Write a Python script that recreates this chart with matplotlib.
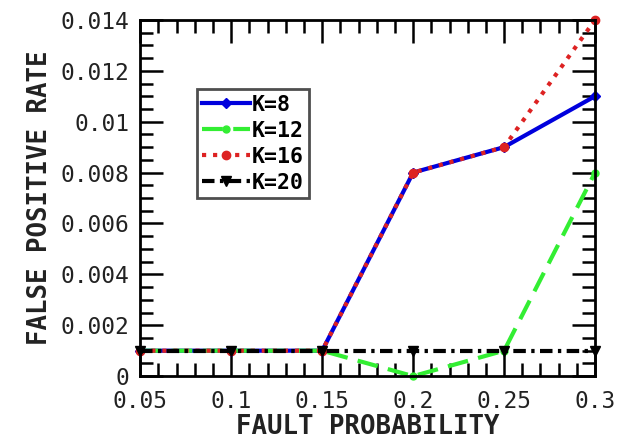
import matplotlib
matplotlib.use('Agg')
import matplotlib.pyplot as plt
from matplotlib.ticker import MultipleLocator, FormatStrFormatter

fault_prob = [0.05, 0.1, 0.15, 0.2, 0.25, 0.3]
k8 = [0.001, 0.001, 0.001, 0.008, 0.009, 0.011]
k12 = [0.001, 0.001, 0.001, 0.0, 0.001, 0.008]
k16 = [0.001, 0.001, 0.001, 0.008, 0.009, 0.014]
k20 = [0.001, 0.001, 0.001, 0.001, 0.001, 0.001]

plt.rcParams['font.family'] = 'DejaVu Sans Mono'

fig = plt.figure(figsize=(6.29, 4.42), dpi=100)
ax = fig.add_axes([0.223, 0.149, 0.723, 0.806])

ax.plot(fault_prob, k8, color='#0000dd', ls='-', lw=3, marker='D', ms=5, label='K=8', clip_on=False)
ax.plot(fault_prob, k12, color='#33ee33', ls=(0, (5, 2.5)), lw=3, marker='o', ms=5, label='K=12', clip_on=False)
ax.plot(fault_prob, k16, color='#dd2222', ls=':', lw=3, marker='o', ms=6, label='K=16', clip_on=False)
ax.plot(fault_prob, k20, color='black', ls=(0, (3, 1.3, 0.8, 1.3)), lw=3, marker='v', ms=7,
        label='K=20', clip_on=False)

ax.set_xlim(0.05, 0.3)
ax.set_ylim(0, 0.014)
ax.xaxis.set_major_locator(MultipleLocator(0.05))
ax.xaxis.set_minor_locator(MultipleLocator(0.01))
ax.yaxis.set_major_locator(MultipleLocator(0.002))
ax.yaxis.set_minor_locator(MultipleLocator(0.0005))
ax.xaxis.set_major_formatter(FormatStrFormatter('%g'))
ax.yaxis.set_major_formatter(FormatStrFormatter('%g'))
ax.tick_params(which='both', direction='in', top=True, right=True, width=1.8, labelsize=16.5,
               labelcolor='#222222')
ax.tick_params(which='major', length=16.5)
ax.tick_params(which='minor', length=9.5)
ax.tick_params(axis='x', pad=10)
ax.tick_params(axis='y', pad=8)
for s in ax.spines.values():
    s.set_linewidth(2)

ax.set_xlabel('FAULT PROBABILITY', fontsize=18.5, fontweight='bold', labelpad=1, color='#222222')
ax.set_ylabel('FALSE POSITIVE RATE', fontsize=18.5, fontweight='bold', labelpad=5, color='#222222')

leg = ax.legend(loc='upper left', bbox_to_anchor=(0.125, 0.805), fancybox=False,
                edgecolor='#222222', handlelength=2.2, handletextpad=0.1, borderpad=0.25,
                labelspacing=0.28, borderaxespad=0, prop={'weight': 'bold', 'size': 15.5})
leg.get_frame().set_linewidth(2)

plt.savefig('out.png', dpi=100)
